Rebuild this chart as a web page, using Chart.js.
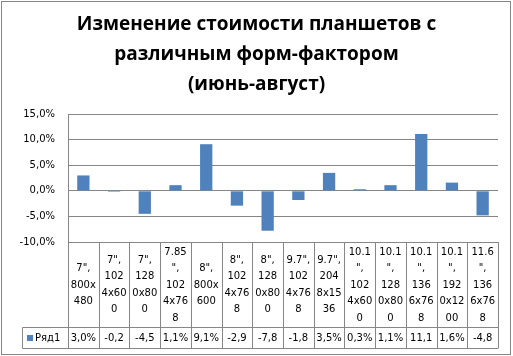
<!DOCTYPE html>
<html>
<head>
<meta charset="utf-8">
<script src="https://cdn.jsdelivr.net/npm/chart.js@4/dist/chart.umd.min.js"></script>
<style>
  html, body { margin: 0; padding: 0; background: #ffffff; }
  canvas { display: block; background: #ffffff; }
</style>
</head>
<body>
<canvas id="c" width="513" height="356"></canvas>
<script>
// ---- data ----
const titleLines = ['Изменение стоимости планшетов с', 'различным форм-фактором', '(июнь-август)'];
const categories = [
  ['7",', '800x', '480'],
  ['7",', '102', '4x60', '0'],
  ['7",', '128', '0x80', '0'],
  ['7.85', '",', '102', '4x76', '8'],
  ['8",', '800x', '600'],
  ['8",', '102', '4x76', '8'],
  ['8",', '128', '0x80', '0'],
  ['9.7",', '102', '4x76', '8'],
  ['9.7",', '204', '8x15', '36'],
  ['10.1', '",', '102', '4x60', '0'],
  ['10.1', '",', '128', '0x80', '0'],
  ['10.1', '",', '136', '6x76', '8'],
  ['10.1', '",', '192', '0x12', '00'],
  ['11.6', '",', '136', '6x76', '8']
];
const seriesName = 'Ряд1';
const values = [3.0, -0.2, -4.5, 1.1, 9.1, -2.9, -7.8, -1.8, 3.5, 0.3, 1.1, 11.1, 1.6, -4.8];
const yTicks = [-10, -5, 0, 5, 10, 15];

const BAR = '#4F81BD';
const LINE = '#868686';
const FONT = '"DejaVu Sans", Verdana, sans-serif';

function pct(v) { return v.toFixed(1).replace('.', ',') + '%'; }
function cellText(v) { return pct(v).slice(0, 4); }

const tablePlugin = {
  id: 'dataTable',
  afterDraw(chart) {
    const ctx = chart.ctx;
    const a = chart.chartArea;
    const n = categories.length;
    const colW = (a.right - a.left) / n;
    const headTop = a.bottom;
    const headBot = a.bottom + 85;
    const rowBot = headBot + 21;
    const legLeft = 22;
    const px = v => Math.round(v) + 0.5;
    ctx.save();
    ctx.strokeStyle = LINE;
    ctx.lineWidth = 1;
    ctx.beginPath();
    for (let i = 0; i <= n; i++) {
      const x = px(a.left + i * colW);
      ctx.moveTo(x, headTop);
      ctx.lineTo(x, rowBot);
    }
    ctx.moveTo(px(legLeft), px(headBot));
    ctx.lineTo(px(a.right), px(headBot));
    ctx.moveTo(px(legLeft), px(rowBot));
    ctx.lineTo(px(a.right), px(rowBot));
    ctx.moveTo(px(legLeft), px(headBot));
    ctx.lineTo(px(legLeft), px(rowBot));
    ctx.stroke();

    ctx.fillStyle = '#000';
    ctx.font = '10px ' + FONT;
    ctx.textAlign = 'center';
    ctx.textBaseline = 'middle';
    const lh = 16.5;
    const midHead = (headTop + headBot) / 2 + 0.5;
    const midRow = (headBot + rowBot) / 2 + 0.5;
    for (let i = 0; i < n; i++) {
      const cx = chart.scales.x.getPixelForValue(i);
      const lines = categories[i];
      const y0 = midHead - (lines.length - 1) * lh / 2;
      lines.forEach((t, k) => ctx.fillText(t, cx, y0 + k * lh));
      ctx.fillText(cellText(values[i]), cx, midRow);
    }
    // legend key
    ctx.fillStyle = BAR;
    ctx.fillRect(27, Math.round(midRow) - 3, 6, 6);
    ctx.fillStyle = '#000';
    ctx.textAlign = 'left';
    ctx.fillText(seriesName, 35, midRow);

    // outer border
    ctx.strokeStyle = LINE;
    ctx.strokeRect(1.5, 1.5, 509, 353);
    ctx.restore();
  }
};

new Chart(document.getElementById('c'), {
  type: 'bar',
  data: {
    labels: categories,
    datasets: [{
      label: seriesName,
      data: values,
      backgroundColor: BAR,
      borderWidth: 0,
      categoryPercentage: 1.0,
      barPercentage: 0.4
    }]
  },
  options: {
    responsive: false,
    animation: false,
    devicePixelRatio: 1,
    layout: { padding: { left: 15, right: 15, top: 0, bottom: 114 } },
    plugins: {
      legend: { display: false },
      tooltip: { enabled: false },
      title: {
        display: true,
        text: titleLines,
        color: '#000',
        font: { family: '"Open Sans", sans-serif', weight: 'bold', size: 19, lineHeight: '30px' },
        padding: { top: 10, bottom: 14 }
      }
    },
    scales: {
      x: { display: false },
      y: {
        min: -10,
        max: 15,
        afterBuildTicks(scale) { scale.ticks = yTicks.map(v => ({ value: v })); },
        afterFit(scale) { scale.width = 53; },
        grid: { color: LINE, drawTicks: false },
        border: { display: true, color: LINE },
        ticks: {
          padding: 13,
          color: '#000',
          font: { family: FONT, size: 10 },
          callback: v => pct(v)
        }
      }
    }
  },
  plugins: [tablePlugin]
});
</script>
</body>
</html>
